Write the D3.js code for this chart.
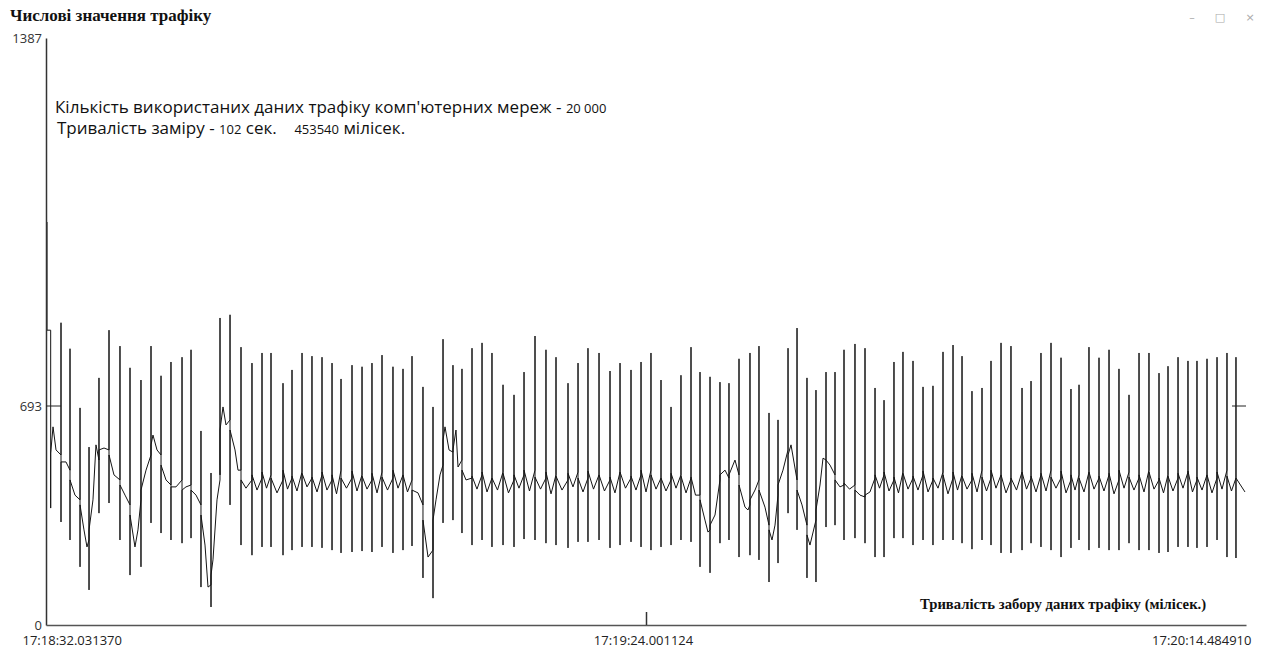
<!DOCTYPE html>
<html>
<head>
<meta charset="utf-8">
<script src="https://cdn.jsdelivr.net/npm/d3@7"></script>
<style>
  body { margin: 0; background: #fff; }
  svg { display: block; }
</style>
</head>
<body>
<svg id="chart" width="1267" height="648"></svg>
<script>
const chartTitle = "Числові значення трафіку";
const xTitle = "Тривалість забору даних трафіку (мілісек.)";
const xTickValues = [0, 10000, 20000];
const xTickLabels = ["17:18:32.031370", "17:19:24.001124", "17:20:14.484910"];
const yTickValues = [0, 693, 1387];

// sample index of each spike, its top, bottom and baseline just before / after
const spikeIdx = [17,
  78, 250, 400, 567, 717, 883, 1050, 1233, 1400, 1583,
  1750, 1917, 2083, 2267, 2417, 2583, 2750, 2900, 3067, 3250,
  3433, 3600, 3750, 3950, 4100, 4267, 4433, 4600, 4767, 4917,
  5100, 5267, 5433, 5600, 5783, 5950, 6100, 6283, 6450, 6617,
  6783, 6933, 7100, 7267, 7433, 7617, 7800, 7967, 8150, 8333,
  8500, 8700, 8867, 9033, 9217, 9400, 9567, 9750, 9917, 10083,
  10250, 10417, 10583, 10750, 10900, 11067, 11233, 11383, 11550, 11733,
  11883, 12050, 12200, 12367, 12517, 12683, 12833, 13000, 13150, 13300,
  13483, 13650, 13817, 13967, 14133, 14283, 14450, 14617, 14783, 14950,
  15117, 15267, 15433, 15600, 15750, 15917, 16083, 16267, 16417, 16583,
  16750, 16917, 17083, 17217, 17383, 17550, 17717, 17883, 18050, 18217,
  18383, 18550, 18700, 18867, 19033, 19183, 19350, 19517, 19683, 19833];
const spikeHigh = [1040,
  836, 850, 801, 687, 563, 746, 836, 806, 765, 742,
  806, 750, 776, 785, 799, 614, 481, 859, 865, 804,
  774, 793, 793, 736, 761, 793, 787, 785, 774, 744,
  770, 767, 774, 789, 767, 763, 787, 729, 690, 819,
  770, 763, 802, 812, 793, 733, 714, 757, 825, 799,
  785, 736, 774, 802, 793, 759, 774, 761, 776, 793,
  742, 690, 751, 804, 757, 748, 738, 736, 782, 793,
  806, 671, 649, 802, 840, 746, 723, 757, 757, 799,
  810, 802, 727, 704, 776, 795, 778, 729, 731, 795,
  808, 787, 721, 727, 778, 812, 806, 727, 740, 793,
  812, 784, 725, 733, 804, 784, 799, 763, 714, 793,
  793, 755, 768, 785, 778, 778, 782, 785, 793, 785];
const spikeLow = [836,
  370, 326, 269, 184, 111, 354, 386, 269, 158, 184,
  323, 291, 269, 259, 275, 120, 57, 475, 380, 253,
  221, 247, 247, 221, 237, 247, 247, 244, 237, 228,
  231, 234, 231, 247, 228, 237, 250, 149, 85, 323,
  332, 291, 253, 269, 247, 253, 247, 272, 269, 259,
  253, 244, 263, 263, 269, 244, 253, 263, 247, 237,
  247, 253, 269, 263, 184, 165, 259, 269, 215, 221,
  206, 136, 196, 354, 301, 149, 136, 310, 316, 269,
  275, 259, 215, 215, 275, 275, 253, 269, 253, 269,
  269, 259, 240, 269, 253, 228, 228, 237, 259, 247,
  237, 215, 244, 269, 237, 244, 237, 237, 259, 237,
  237, 228, 231, 247, 247, 244, 247, 269, 215, 212];
const spikePre = [1040,
  836, 538, 490, 396, 269, 522, 554, 459, 380, 396,
  538, 538, 443, 459, 443, 380, 127, 459, 649, 490,
  459, 465, 475, 459, 465, 484, 465, 475, 459, 490,
  465, 475, 459, 484, 465, 475, 459, 380, 237, 506,
  547, 522, 465, 475, 465, 484, 459, 475, 490, 465,
  475, 459, 484, 465, 475, 459, 484, 465, 475, 490,
  465, 459, 475, 465, 411, 301, 459, 465, 475, 380,
  459, 316, 411, 554, 459, 316, 332, 522, 475, 443,
  443, 405, 465, 475, 459, 484, 465, 475, 459, 484,
  465, 475, 459, 490, 465, 475, 459, 484, 465, 475,
  490, 465, 459, 475, 484, 465, 475, 459, 484, 465,
  490, 459, 475, 465, 484, 459, 475, 465, 490, 465];
const spikePost = [836,
  544, 516, 459, 380, 301, 554, 538, 443, 348, 427,
  570, 506, 437, 427, 427, 348, 158, 617, 617, 459,
  475, 484, 465, 490, 471, 480, 468, 484, 475, 465,
  487, 471, 480, 468, 490, 475, 427, 332, 332, 585,
  554, 490, 471, 484, 465, 480, 475, 490, 468, 484,
  471, 480, 465, 487, 475, 468, 484, 471, 490, 475,
  465, 480, 471, 468, 396, 316, 475, 475, 443, 396,
  427, 301, 443, 538, 427, 285, 364, 522, 459, 449,
  427, 411, 475, 484, 468, 480, 471, 487, 465, 475,
  484, 471, 480, 468, 490, 475, 465, 484, 471, 480,
  468, 487, 475, 465, 484, 471, 480, 490, 468, 475,
  484, 465, 471, 480, 487, 468, 475, 484, 471, 465];

// baseline between spikes: slow wander and resting level
const waveIdx = [117, 167, 333, 483, 633, 683, 783, 833, 967, 1133,
  1317, 1483, 1533, 1667, 1783, 1850, 2000, 2167, 2333, 2500,
  2650, 2700, 2783, 2850, 2950, 3000, 3150, 3200, 3333,
  3517, 3675, 3850, 4025, 4183, 4350, 4517, 4683, 4842, 5008,
  5183, 5350, 5517, 5692, 5867, 6025,
  6200, 6367, 6500, 6567, 6650, 6717, 6833, 6867, 7000,
  7183, 7350, 7525, 7708, 7883, 8058, 8242, 8417, 8600, 8783,
  8950, 9125, 9308, 9483, 9658, 9833, 10000, 10167, 10333, 10500,
  10667, 10825,
  10983, 11033, 11150, 11317, 11483, 11650, 11700, 11817, 11983, 12100,
  12150, 12283, 12417, 12600, 12733, 12900, 12950, 13067, 13233, 13567,
  13392, 13733, 13892, 14050, 14208, 14367, 14533, 14700, 14867, 15033,
  15192, 15350, 15517, 15675, 15833, 16000, 16175, 16342, 16500, 16667,
  16833, 17000, 17150, 17300, 17467, 17633, 17800, 17967, 18133, 18300,
  18467, 18625, 18783, 18950, 19108, 19267, 19433, 19600, 19758,
  19983];
const waveValue = [627, 554, 516, 411, 301, 247, 396, 570, 560, 475,
  411, 247, 301, 490, 601, 554, 459, 437, 437, 411,
  253, 120, 206, 396, 690, 633, 554, 490, 433,
  427, 433, 418, 430, 424, 437, 421, 427, 415, 433,
  424, 430, 418, 427, 433, 421,
  418, 215, 396, 475, 627, 554, 617, 500, 459,
  430, 421, 427, 418, 433, 424, 430, 415, 427, 437,
  421, 430, 424, 418, 433, 427, 421, 430, 424, 433,
  418, 411,
  332, 294, 348, 490, 522, 373, 364, 427, 373, 269,
  316, 490, 570, 380, 253, 443, 528, 506, 437, 411,
  430, 421, 433, 424, 418, 430, 427, 421, 433, 415,
  427, 430, 421, 424, 433, 418, 427, 430, 421, 424,
  433, 418, 427, 421, 430, 424, 415, 433, 427, 421,
  430, 418, 424, 433, 421, 427, 418, 430, 424,
  421];

const width = 1267;
const height = 648;
const svg = d3.select("#chart");

const x = d3.scaleLinear().domain([0, 20000]).range([46, 1246]);
const y = d3.scaleLinear().domain(yTickValues).range([625, 406, 38]);

// build the trace
const nodes = [];
spikeIdx.forEach((t, i) => {
  nodes.push([t, spikePre[i]], [t, spikeHigh[i]], [t, spikeLow[i]], [t, spikePost[i]]);
});
waveIdx.forEach((t, i) => nodes.push([t, waveValue[i]]));
nodes.sort((a, b) => a[0] - b[0]);

const line = d3.line()
  .x((d) => x(d[0]))
  .y((d) => y(d[1]));

svg.append("path")
  .datum(nodes)
  .attr("d", line)
  .attr("fill", "none")
  .attr("stroke", "#151515")
  .attr("stroke-width", 1);

// y axis
const yAxis = svg.append("g")
  .attr("transform", `translate(${x(0)},0)`)
  .call(d3.axisLeft(y)
    .tickValues(yTickValues)
    .tickFormat(d3.format("d"))
    .tickSize(0)
    .tickPadding(4));
yAxis.select(".domain").attr("stroke", "#333").attr("stroke-width", 1.5);
yAxis.selectAll("text")
  .attr("font-family", "'Open Sans', sans-serif")
  .attr("font-size", 13)
  .attr("fill", "#333");

// short marks at the middle value, both sides
svg.append("line")
  .attr("x1", x(0)).attr("x2", x(0) + 15)
  .attr("y1", y(693)).attr("y2", y(693))
  .attr("stroke", "#222");
svg.append("line")
  .attr("x1", x(20000) - 14).attr("x2", x(20000))
  .attr("y1", y(693)).attr("y2", y(693))
  .attr("stroke", "#222");

// x axis
const xAxis = svg.append("g")
  .attr("transform", `translate(0,${y(0)})`)
  .call(d3.axisBottom(x)
    .tickValues(xTickValues)
    .tickFormat((d, i) => xTickLabels[i])
    .tickSize(-13)
    .tickSizeOuter(0)
    .tickPadding(11));
xAxis.select(".domain").attr("stroke", "#555").attr("stroke-width", 1.6);
xAxis.selectAll(".tick line")
  .attr("stroke", "#333")
  .attr("stroke-width", 1.5)
  .attr("opacity", (d, i) => (i === 1 ? 1 : 0));
xAxis.selectAll("text")
  .attr("font-family", "'Open Sans', sans-serif")
  .attr("font-size", 13)
  .attr("fill", "#222")
  .attr("text-anchor", (d, i) => (i === 0 ? "start" : i === 2 ? "end" : "middle"))
  .attr("dx", (d, i) => (i === 0 ? -24 : i === 2 ? 5 : -3));

// titles
svg.append("text")
  .attr("x", 10).attr("y", 21)
  .attr("font-family", "'Liberation Serif', serif")
  .attr("font-weight", "bold")
  .attr("font-size", 17)
  .attr("fill", "#111")
  .text(chartTitle);

svg.append("text")
  .attr("x", 920).attr("y", 609)
  .attr("font-family", "'Liberation Serif', serif")
  .attr("font-weight", "bold")
  .attr("font-size", 14.7)
  .attr("fill", "#111")
  .text(xTitle);

// annotation
const note = svg.append("g")
  .attr("font-family", "'Open Sans', sans-serif")
  .attr("fill", "#111");
const l1 = note.append("text")
  .attr("xml:space", "preserve")
  .attr("x", 55).attr("y", 113).attr("font-size", 17);
l1.append("tspan").text("Кількість використаних даних трафіку комп'ютерних мереж - ");
l1.append("tspan").attr("font-size", 13).text("20 000");
const l2 = note.append("text")
  .attr("xml:space", "preserve")
  .attr("x", 57).attr("y", 134).attr("font-size", 17);
l2.append("tspan").text("Тривалість заміру - ");
l2.append("tspan").attr("font-size", 13).text("102");
l2.append("tspan").text(" сек.    ");
l2.append("tspan").attr("font-size", 13).text("453540");
l2.append("tspan").text(" мілісек.");

// window buttons
const btn = svg.append("g")
  .attr("font-family", "'DejaVu Sans', sans-serif")
  .attr("font-size", 11)
  .attr("fill", "#aaa")
  .attr("text-anchor", "middle");
btn.append("text").attr("x", 1192).attr("y", 21).text("–");
btn.append("text").attr("x", 1220).attr("y", 21).text("□");
btn.append("text").attr("x", 1250).attr("y", 21).text("×");
</script>
</body>
</html>
